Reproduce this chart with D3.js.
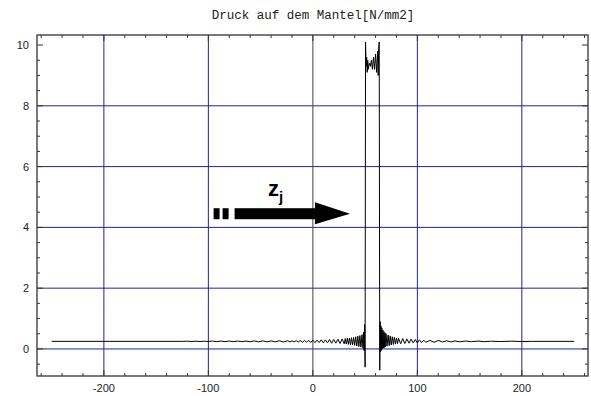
<!DOCTYPE html>
<html>
<head>
<meta charset="utf-8">
<script src="https://cdn.jsdelivr.net/npm/d3@7"></script>
<style>
  body { margin: 0; background: #fff; }
  svg { display: block; }
</style>
</head>
<body>
<div id="chart"></div>
<script>
// chart title and tick labels
var title = "Druck auf dem Mantel[N/mm2]";
var xTickValues = [-200, -100, 0, 100, 200];
var yTickValues = [0, 2, 4, 6, 8, 10];
var xGrid = [-200, -100, 100, 200];
var yGrid = [0, 2, 4, 6, 8];

// pressure along the shell (one row per stretch, same count in both arrays)
var posX = [
  -250, -125,
  -120, -116, -112, -108, -104, -100, -96, -92, -88, -84, -80, -76, -72, -68, -64, -60, -56, -52, -48, -44, -40, -36, -32, -28, -24,
  -22, -20, -18, -16, -14, -12, -10, -8, -6, -4, -2, 0, 2, 4, 6, 8, 10, 12, 14, 16, 18, 20, 22, 24, 26, 28, 30,
  31, 32, 33, 34, 35, 36, 37, 38, 39, 40, 41, 42, 43, 44, 45, 46, 47, 48,
  48.5, 49, 49.5, 50, 50.4,
  51, 51.5, 52, 52.5, 53, 54, 55, 56, 57, 58, 59, 60, 61, 62, 62.5, 63, 63.5,
  64,
  64.4, 64.8, 65.2, 65.6, 66, 66.5, 67, 67.5, 68, 68.5, 69, 69.5, 70,
  71, 72, 73, 74, 75, 76, 77, 78, 79, 80, 81, 82,
  84, 86, 88, 90, 92, 94, 96, 98, 100, 102, 104, 106, 108,
  112, 116, 120, 124, 128, 132, 136, 140,
  146, 152, 158, 164, 170, 180, 190, 200, 210,
  250];
var druck = [
  0.25, 0.25,
  0.255, 0.245, 0.255, 0.245, 0.255, 0.245, 0.26, 0.24, 0.26, 0.24, 0.26, 0.24, 0.26, 0.24, 0.26, 0.24, 0.265, 0.235, 0.265, 0.235, 0.265, 0.235, 0.27, 0.23, 0.27,
  0.23, 0.27, 0.23, 0.275, 0.225, 0.28, 0.22, 0.28, 0.22, 0.285, 0.215, 0.29, 0.21, 0.29, 0.21, 0.30, 0.20, 0.30, 0.20, 0.31, 0.19, 0.31, 0.19, 0.32, 0.18, 0.33, 0.17,
  0.34, 0.16, 0.35, 0.15, 0.36, 0.14, 0.37, 0.13, 0.38, 0.12, 0.40, 0.10, 0.42, 0.08, 0.44, 0.06, 0.47, 0.03,
  0.55, -0.05, 0.80, -0.60, 10.1,
  9.3, 9.6, 9.1, 9.5, 9.2, 9.4, 9.3, 9.5, 9.2, 9.6, 9.2, 9.7, 9.1, 9.8, 9.0, 9.9, 10.1,
  -0.7,
  0.9, -0.1, 0.75, -0.05, 0.68, 0.0, 0.62, 0.03, 0.57, 0.05, 0.53, 0.07, 0.50,
  0.09, 0.46, 0.11, 0.43, 0.13, 0.40, 0.15, 0.38, 0.16, 0.36, 0.17, 0.35,
  0.17, 0.34, 0.18, 0.33, 0.19, 0.32, 0.20, 0.31, 0.20, 0.30, 0.21, 0.29, 0.22,
  0.28, 0.22, 0.28, 0.23, 0.27, 0.23, 0.265, 0.235,
  0.26, 0.24, 0.26, 0.24, 0.255, 0.245, 0.255, 0.245, 0.25,
  0.25];

// arrow annotation (data units)
var arrowStart = -95, arrowEnd = 35.5, arrowY = 4.45;

var width = 591, height = 396;
var frame = {left: 37, right: 588, top: 35, bottom: 376};

var svg = d3.select("#chart")
  .append("svg")
    .attr("width", width)
    .attr("height", height);

var x = d3.scaleLinear()
  .domain([-264, 263.3])
  .range([frame.left, frame.right]);
var y = d3.scaleLinear()
  .domain([-0.89, 10.33])
  .range([frame.bottom, frame.top]);

// title
svg.append("text")
  .attr("x", 313)
  .attr("y", 19)
  .attr("text-anchor", "middle")
  .style("font-family", "'Liberation Mono', 'DejaVu Sans Mono', monospace")
  .style("font-size", "12.5px")
  .style("fill", "#222")
  .text(title);

// grid lines
var gridColor = "#23238c";
svg.append("g").selectAll("line")
  .data(xGrid)
  .enter().append("line")
    .attr("x1", d => x(d)).attr("x2", d => x(d))
    .attr("y1", frame.top).attr("y2", frame.bottom)
    .attr("stroke", gridColor)
    .attr("stroke-width", 1);
svg.append("g").selectAll("line")
  .data(yGrid)
  .enter().append("line")
    .attr("x1", frame.left).attr("x2", frame.right)
    .attr("y1", d => y(d)).attr("y2", d => y(d))
    .attr("stroke", gridColor)
    .attr("stroke-width", 1);

// vertical axis at x = 0
svg.append("line")
  .attr("x1", x(0)).attr("x2", x(0))
  .attr("y1", frame.top).attr("y2", frame.bottom)
  .attr("stroke", "#444")
  .attr("stroke-width", 1);

// data line
var line = d3.line()
  .x((d, i) => x(posX[i]))
  .y(d => y(d));
svg.append("path")
  .datum(druck)
  .attr("fill", "none")
  .attr("stroke", "#000")
  .attr("stroke-width", 1)
  .attr("d", line);

// frame with inward ticks on all four sides
var tickColor = "#333";
var xMinor = d3.range(-260, 261, 20);
var yMinor = d3.range(-0.5, 10.01, 0.5);
function isMajorX(v) { return v % 100 === 0; }
function isMajorY(v) { return Math.abs(v % 2) < 1e-9; }

var ticks = svg.append("g");
ticks.selectAll(".xb").data(xMinor).enter().append("line")
  .attr("x1", d => x(d)).attr("x2", d => x(d))
  .attr("y1", frame.bottom).attr("y2", d => frame.bottom - (isMajorX(d) ? 6 : 3));
ticks.selectAll(".xt").data(xMinor).enter().append("line")
  .attr("x1", d => x(d)).attr("x2", d => x(d))
  .attr("y1", frame.top).attr("y2", d => frame.top + (isMajorX(d) ? 6 : 3));
ticks.selectAll(".yl").data(yMinor).enter().append("line")
  .attr("y1", d => y(d)).attr("y2", d => y(d))
  .attr("x1", frame.left).attr("x2", d => frame.left + (isMajorY(d) ? 6 : 3));
ticks.selectAll(".yr").data(yMinor).enter().append("line")
  .attr("y1", d => y(d)).attr("y2", d => y(d))
  .attr("x1", frame.right).attr("x2", d => frame.right - (isMajorY(d) ? 6 : 3));
ticks.selectAll("line")
  .attr("stroke", tickColor)
  .attr("stroke-width", 1);

svg.append("rect")
  .attr("x", frame.left).attr("y", frame.top)
  .attr("width", frame.right - frame.left)
  .attr("height", frame.bottom - frame.top)
  .attr("fill", "none")
  .attr("stroke", tickColor)
  .attr("stroke-width", 1.3);

// tick labels
var labelFont = "Arial, 'Liberation Sans', sans-serif";
svg.append("g").selectAll("text")
  .data(xTickValues)
  .enter().append("text")
    .attr("x", d => x(d))
    .attr("y", 392)
    .attr("text-anchor", "middle")
    .style("font-family", labelFont)
    .style("font-size", "11px")
    .style("fill", "#222")
    .text(d => d < 0 ? "-" + Math.abs(d) : d);
svg.append("g").selectAll("text")
  .data(yTickValues)
  .enter().append("text")
    .attr("x", 29)
    .attr("y", d => y(d) + 4)
    .attr("text-anchor", "end")
    .style("font-family", labelFont)
    .style("font-size", "11px")
    .style("fill", "#222")
    .text(d => d);

// arrow with label z_j
var arrow = svg.append("g").attr("fill", "#000");
var ay = y(arrowY);
arrow.append("rect").attr("x", x(arrowStart)).attr("y", ay - 5.5).attr("width", 6).attr("height", 11);
arrow.append("rect").attr("x", x(arrowStart) + 9).attr("y", ay - 5.5).attr("width", 6).attr("height", 11);
arrow.append("rect").attr("x", x(arrowStart) + 21).attr("y", ay - 5.5).attr("width", x(arrowEnd) - 35 - x(arrowStart) - 21).attr("height", 11);
arrow.append("path")
  .attr("d", "M" + (x(arrowEnd) - 35) + "," + (ay - 11.5) +
             "L" + x(arrowEnd) + "," + ay +
             "L" + (x(arrowEnd) - 35) + "," + (ay + 10.5) + "Z");

var zLabel = svg.append("text")
  .attr("x", x(-43))
  .attr("y", y(5.03))
  .style("font-family", "Arial, 'Liberation Sans', sans-serif")
  .style("font-weight", "bold")
  .style("font-size", "22px")
  .style("fill", "#000");
zLabel.append("tspan").text("z");
zLabel.append("tspan")
  .attr("dy", 6)
  .style("font-size", "15px")
  .text("j");
</script>
</body>
</html>
